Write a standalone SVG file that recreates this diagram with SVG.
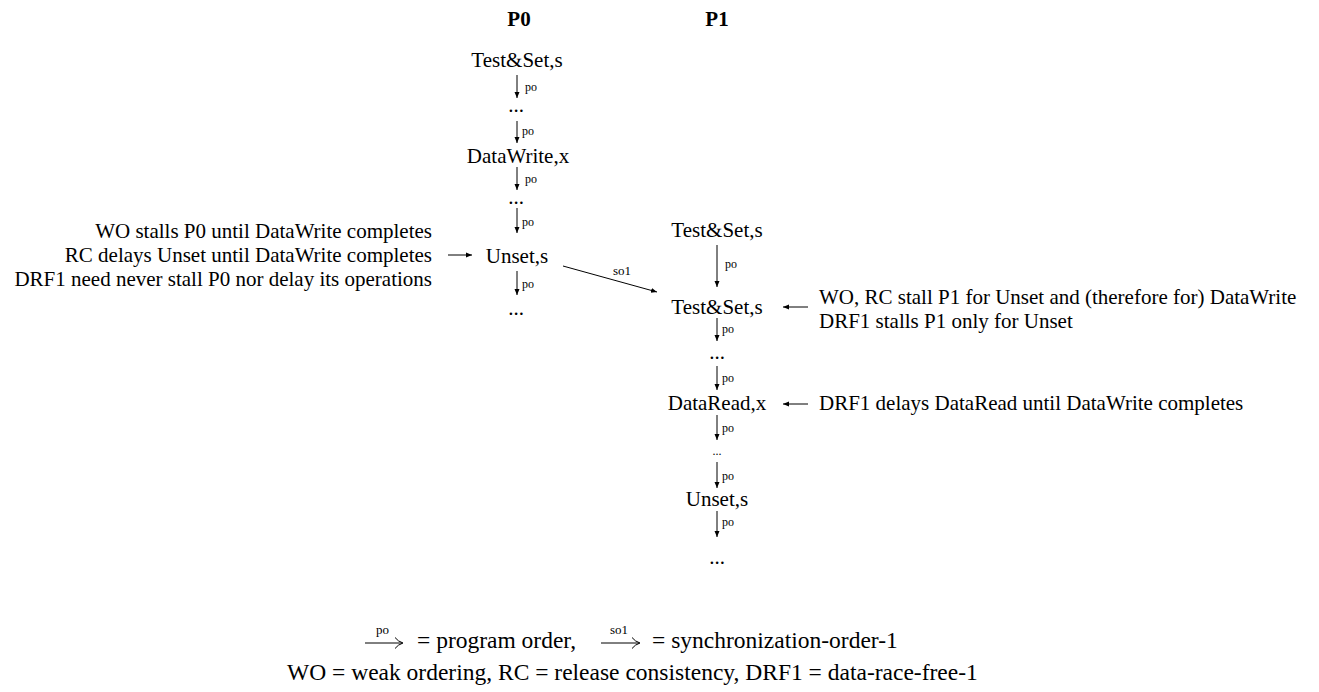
<svg xmlns="http://www.w3.org/2000/svg" width="1319" height="692" viewBox="0 0 1319 692">
<style>
text{font-family:"Liberation Serif","Times New Roman",serif;fill:#000}
.n{font-size:21px;text-anchor:middle}
.h{font-size:21px;font-weight:bold;text-anchor:middle}
.a{font-size:21px}
.g{font-size:23.5px}
.e{text-anchor:end}
.l{font-size:12px}
.c{stroke:#000;stroke-width:1;fill:none}
</style>
<defs>
<marker id="ah" markerWidth="8" markerHeight="8" refX="6" refY="4" orient="auto" markerUnits="userSpaceOnUse">
<path d="M0,1.5 L6,4 L0,6.5 Z" fill="#000"/>
</marker>
</defs>
<rect width="1319" height="692" fill="#fff"/>
<g id="headers">
<text class="h" x="519" y="26">P0</text>
<text class="h" x="717" y="26">P1</text>
</g>
<g id="p0-ts"><text class="n" x="517" y="67">Test&amp;Set,s</text></g>
<g id="p0-d1"><text class="n" x="516" y="112">...</text></g>
<g id="p0-dw"><text class="n" x="518" y="163">DataWrite,x</text></g>
<g id="p0-d2"><text class="n" x="516" y="204">...</text></g>
<g id="p0-unset"><text class="n" x="517" y="263">Unset,s</text></g>
<g id="p0-d3"><text class="n" x="516" y="315">...</text></g>
<g id="p1-ts1"><text class="n" x="717" y="237">Test&amp;Set,s</text></g>
<g id="p1-ts2"><text class="n" x="717" y="314">Test&amp;Set,s</text></g>
<g id="p1-d1"><text class="n" x="717" y="359">...</text></g>
<g id="p1-dr"><text class="n" x="717" y="410">DataRead,x</text></g>
<g id="p1-d2"><text class="n" x="717" y="455" style="font-size:12px">...</text></g>
<g id="p1-unset"><text class="n" x="717" y="506">Unset,s</text></g>
<g id="p1-d3"><text class="n" x="717" y="564">...</text></g>
<g id="note-left">
<text class="a e" x="432" y="238">WO stalls P0 until DataWrite completes</text>
<text class="a e" x="432" y="262">RC delays Unset until DataWrite completes</text>
<text class="a e" x="432" y="286">DRF1 need never stall P0 nor delay its operations</text>
</g>
<g id="note-right1">
<text class="a" x="819" y="304">WO, RC stall P1 for Unset and (therefore for) DataWrite</text>
<text class="a" x="819" y="328">DRF1 stalls P1 only for Unset</text>
</g>
<g id="note-right2">
<text class="a" x="819" y="410">DRF1 delays DataRead until DataWrite completes</text>
</g>
<g id="connectors">
<line class="c" x1="517" y1="75" x2="517" y2="98" marker-end="url(#ah)"/>
<text class="l" x="525" y="91">po</text>
<line class="c" x1="517" y1="121" x2="517" y2="143" marker-end="url(#ah)"/>
<text class="l" x="522" y="135">po</text>
<line class="c" x1="517" y1="167" x2="517" y2="190" marker-end="url(#ah)"/>
<text class="l" x="525" y="183">po</text>
<line class="c" x1="517" y1="208" x2="517" y2="233" marker-end="url(#ah)"/>
<text class="l" x="522" y="226">po</text>
<line class="c" x1="517" y1="271" x2="517" y2="295" marker-end="url(#ah)"/>
<text class="l" x="522" y="288">po</text>
<line class="c" x1="717" y1="245" x2="717" y2="287" marker-end="url(#ah)"/>
<text class="l" x="725" y="268">po</text>
<line class="c" x1="717" y1="318" x2="717" y2="341" marker-end="url(#ah)"/>
<text class="l" x="722" y="333">po</text>
<line class="c" x1="717" y1="366" x2="717" y2="390" marker-end="url(#ah)"/>
<text class="l" x="722" y="382">po</text>
<line class="c" x1="717" y1="415" x2="717" y2="440" marker-end="url(#ah)"/>
<text class="l" x="722" y="432">po</text>
<line class="c" x1="717" y1="462" x2="717" y2="488" marker-end="url(#ah)"/>
<text class="l" x="722" y="480">po</text>
<line class="c" x1="717" y1="511" x2="717" y2="537" marker-end="url(#ah)"/>
<text class="l" x="722" y="526">po</text>
<line class="c" x1="563" y1="266" x2="657" y2="292" marker-end="url(#ah)"/>
<text class="l" x="613" y="275" style="font-size:13px">so1</text>
<line class="c" x1="448" y1="255" x2="472" y2="255" marker-end="url(#ah)"/>
<line class="c" x1="808" y1="307" x2="783" y2="307" marker-end="url(#ah)"/>
<line class="c" x1="808" y1="404" x2="783" y2="404" marker-end="url(#ah)"/>
</g>
<g id="legend">
<path class="c" d="M365,643 H402"/>
<path class="c" d="M395,637.5 Q398,641.5 403,643 Q398,644.5 395,648.5"/>
<text class="l" x="376" y="634" style="font-size:13px">po</text>
<text class="g" x="417" y="648">= program order,</text>
<path class="c" d="M601,643 H639"/>
<path class="c" d="M632,637.5 Q635,641.5 640,643 Q635,644.5 632,648.5"/>
<text class="l" x="610" y="634" style="font-size:13px">so1</text>
<text class="g" x="652" y="648">= synchronization-order-1</text>
<text class="g" x="287" y="680">WO = weak ordering, RC = release consistency, DRF1 = data-race-free-1</text>
</g>
</svg>
